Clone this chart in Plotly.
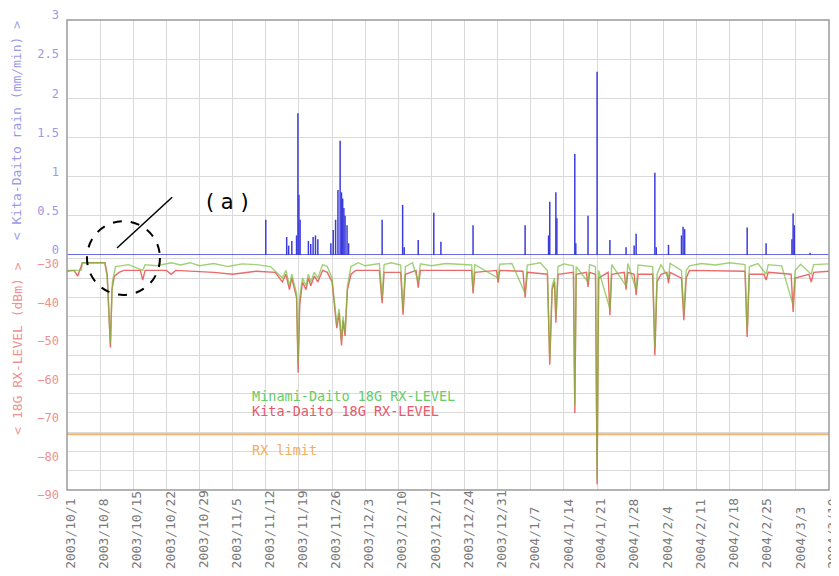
import plotly.graph_objects as go

# ---------------- data ----------------
tick_dates = ["2003-10-01", "2003-10-08", "2003-10-15", "2003-10-22", "2003-10-29",
              "2003-11-05", "2003-11-12", "2003-11-19", "2003-11-26", "2003-12-03",
              "2003-12-10", "2003-12-17", "2003-12-24", "2003-12-31", "2004-01-07",
              "2004-01-14", "2004-01-21", "2004-01-28", "2004-02-04", "2004-02-11",
              "2004-02-18", "2004-02-25", "2004-03-03", "2004-03-10"]
tick_labels = ["2003/10/1", "2003/10/8", "2003/10/15", "2003/10/22", "2003/10/29",
               "2003/11/5", "2003/11/12", "2003/11/19", "2003/11/26", "2003/12/3",
               "2003/12/10", "2003/12/17", "2003/12/24", "2003/12/31", "2004/1/7",
               "2004/1/14", "2004/1/21", "2004/1/28", "2004/2/4", "2004/2/11",
               "2004/2/18", "2004/2/25", "2004/3/3", "2004/3/10"]

rain_ticks = [0, 0.5, 1, 1.5, 2, 2.5, 3]
rain_tick_text = ["0", "0.5", "1", "1.5", "2", "2.5", "3"]
db_ticks = [-90, -80, -70, -60, -50, -40, -30]
db_minor = [-85, -75, -65, -55, -45, -35]

rain = [
    ("2003-11-12 00:00", 0.45), ("2003-11-16 10:00", 0.23), ("2003-11-16 20:00", 0.12),
    ("2003-11-17 12:00", 0.18), ("2003-11-18 12:00", 0.25), ("2003-11-18 19:00", 1.81),
    ("2003-11-19 00:00", 0.77), ("2003-11-19 06:00", 0.45), ("2003-11-21 00:00", 0.18),
    ("2003-11-21 12:00", 0.14), ("2003-11-22 00:00", 0.23), ("2003-11-22 12:00", 0.25),
    ("2003-11-23 00:00", 0.20), ("2003-11-25 18:00", 0.15), ("2003-11-26 06:00", 0.32),
    ("2003-11-26 18:00", 0.45), ("2003-11-27 06:00", 0.83), ("2003-11-27 17:00", 1.46),
    ("2003-11-28 00:00", 0.80), ("2003-11-28 06:00", 0.72), ("2003-11-28 12:00", 0.60),
    ("2003-11-28 18:00", 0.50), ("2003-11-29 04:00", 0.38), ("2003-11-29 12:00", 0.15),
    ("2003-12-06 14:00", 0.45), ("2003-12-10 22:00", 0.64), ("2003-12-11 06:00", 0.10),
    ("2003-12-14 05:00", 0.19), ("2003-12-17 12:00", 0.54), ("2003-12-19 00:00", 0.17),
    ("2003-12-25 19:00", 0.38), ("2004-01-05 19:00", 0.38), ("2004-01-10 18:00", 0.25),
    ("2004-01-11 00:00", 0.68), ("2004-01-12 07:00", 0.80), ("2004-01-12 12:00", 0.47),
    ("2004-01-16 07:00", 1.29), ("2004-01-16 12:00", 0.15), ("2004-01-19 02:00", 0.50),
    ("2004-01-21 00:00", 2.34), ("2004-01-23 17:00", 0.19), ("2004-01-27 03:00", 0.10),
    ("2004-01-28 20:00", 0.12), ("2004-01-29 06:00", 0.27), ("2004-02-02 05:00", 1.05),
    ("2004-02-02 12:00", 0.10), ("2004-02-05 02:00", 0.13), ("2004-02-07 20:00", 0.25),
    ("2004-02-08 04:00", 0.36), ("2004-02-08 12:00", 0.33), ("2004-02-21 17:00", 0.35),
    ("2004-02-25 17:00", 0.15), ("2004-03-02 04:00", 0.20), ("2004-03-02 10:00", 0.53),
    ("2004-03-02 16:00", 0.38), ("2004-03-06 00:00", 0.03),
]

kita = [
    ("2003-10-01 00:00", -33.2), ("2003-10-02 12:00", -33.0), ("2003-10-03 06:00", -34.5),
    ("2003-10-03 18:00", -33.0), ("2003-10-04 06:00", -31.0), ("2003-10-09 00:00", -31.0),
    ("2003-10-09 12:00", -34.0), ("2003-10-10 04:00", -53.0), ("2003-10-10 12:00", -38.0),
    ("2003-10-11 00:00", -34.5), ("2003-10-12 00:00", -33.5), ("2003-10-13 00:00", -33.0),
    ("2003-10-16 12:00", -33.0), ("2003-10-17 00:00", -35.5), ("2003-10-17 12:00", -33.0),
    ("2003-10-22 00:00", -33.0), ("2003-10-23 00:00", -34.0), ("2003-10-24 00:00", -33.0),
    ("2003-11-01 00:00", -33.5), ("2003-11-05 00:00", -34.0), ("2003-11-10 00:00", -33.2),
    ("2003-11-14 00:00", -33.5), ("2003-11-15 12:00", -36.0), ("2003-11-16 06:00", -34.0),
    ("2003-11-17 00:00", -38.0), ("2003-11-17 12:00", -35.0), ("2003-11-18 12:00", -40.0),
    ("2003-11-18 20:00", -59.5), ("2003-11-19 04:00", -42.0), ("2003-11-19 18:00", -36.0),
    ("2003-11-20 12:00", -38.0), ("2003-11-21 00:00", -35.0), ("2003-11-21 12:00", -37.0),
    ("2003-11-22 06:00", -34.5), ("2003-11-23 00:00", -36.0), ("2003-11-24 00:00", -33.0),
    ("2003-11-25 00:00", -33.5), ("2003-11-26 00:00", -36.0), ("2003-11-26 12:00", -42.0),
    ("2003-11-27 00:00", -48.0), ("2003-11-27 12:00", -44.0), ("2003-11-28 00:00", -52.5),
    ("2003-11-28 08:00", -46.0), ("2003-11-28 18:00", -50.0), ("2003-11-29 06:00", -38.0),
    ("2003-11-30 00:00", -34.0), ("2003-12-01 00:00", -33.0), ("2003-12-06 00:00", -33.0),
    ("2003-12-06 14:00", -41.5), ("2003-12-07 00:00", -33.5), ("2003-12-10 12:00", -33.5),
    ("2003-12-11 00:00", -44.5), ("2003-12-11 12:00", -34.0), ("2003-12-13 18:00", -33.0),
    ("2003-12-14 05:00", -37.5), ("2003-12-14 16:00", -33.0), ("2003-12-25 12:00", -33.0),
    ("2003-12-25 19:00", -39.0), ("2003-12-26 04:00", -33.5), ("2003-12-30 18:00", -33.0),
    ("2003-12-31 02:00", -36.2), ("2003-12-31 10:00", -33.0), ("2004-01-05 08:00", -33.2),
    ("2004-01-05 19:00", -40.0), ("2004-01-06 06:00", -33.5), ("2004-01-10 12:00", -34.0),
    ("2004-01-11 00:00", -57.5), ("2004-01-11 12:00", -38.0), ("2004-01-12 00:00", -36.0),
    ("2004-01-12 07:00", -46.6), ("2004-01-12 18:00", -34.0), ("2004-01-16 00:00", -33.5),
    ("2004-01-16 07:00", -70.0), ("2004-01-16 14:00", -34.0), ("2004-01-18 18:00", -33.5),
    ("2004-01-19 02:00", -37.3), ("2004-01-19 10:00", -33.5), ("2004-01-20 16:00", -34.0),
    ("2004-01-21 00:00", -88.5), ("2004-01-21 08:00", -35.0), ("2004-01-23 08:00", -33.5),
    ("2004-01-23 17:00", -44.6), ("2004-01-24 02:00", -34.0), ("2004-01-26 18:00", -33.5),
    ("2004-01-27 03:00", -38.0), ("2004-01-27 12:00", -33.5), ("2004-01-28 20:00", -34.0),
    ("2004-01-29 06:00", -39.4), ("2004-01-29 16:00", -34.0), ("2004-02-01 18:00", -34.0),
    ("2004-02-02 05:00", -55.0), ("2004-02-02 16:00", -36.0), ("2004-02-03 12:00", -34.0),
    ("2004-02-04 18:00", -33.5), ("2004-02-05 02:00", -36.3), ("2004-02-05 10:00", -33.5),
    ("2004-02-07 20:00", -35.0), ("2004-02-08 08:00", -45.9), ("2004-02-08 20:00", -35.0),
    ("2004-02-09 12:00", -33.0), ("2004-02-21 06:00", -33.2), ("2004-02-21 17:00", -50.3),
    ("2004-02-22 04:00", -34.0), ("2004-02-25 06:00", -34.0), ("2004-02-25 17:00", -35.5),
    ("2004-02-26 04:00", -33.5), ("2004-03-02 00:00", -34.0), ("2004-03-02 10:00", -43.8),
    ("2004-03-02 20:00", -35.0), ("2004-03-05 18:00", -34.0), ("2004-03-06 06:00", -36.0),
    ("2004-03-06 18:00", -33.5), ("2004-03-10 00:00", -33.2),
]

minami = [
    ("2003-10-01 00:00", -33.0), ("2003-10-04 00:00", -33.0), ("2003-10-04 06:00", -31.0),
    ("2003-10-09 00:00", -31.0), ("2003-10-09 12:00", -35.0), ("2003-10-10 04:00", -52.0),
    ("2003-10-10 14:00", -36.0), ("2003-10-11 06:00", -32.0), ("2003-10-14 00:00", -31.5),
    ("2003-10-17 00:00", -33.0), ("2003-10-17 12:00", -31.5), ("2003-10-20 00:00", -31.8),
    ("2003-10-23 00:00", -31.0), ("2003-10-25 00:00", -31.6), ("2003-10-27 00:00", -31.0),
    ("2003-10-29 00:00", -31.8), ("2003-11-01 00:00", -31.2), ("2003-11-04 00:00", -32.0),
    ("2003-11-07 00:00", -31.3), ("2003-11-10 00:00", -31.5), ("2003-11-13 00:00", -32.0),
    ("2003-11-15 12:00", -35.0), ("2003-11-16 06:00", -33.0), ("2003-11-17 00:00", -37.0),
    ("2003-11-17 12:00", -34.0), ("2003-11-18 12:00", -39.0), ("2003-11-18 20:00", -57.0),
    ("2003-11-19 04:00", -40.0), ("2003-11-19 18:00", -35.0), ("2003-11-20 12:00", -37.0),
    ("2003-11-21 00:00", -34.0), ("2003-11-21 12:00", -36.0), ("2003-11-22 06:00", -33.5),
    ("2003-11-23 00:00", -35.0), ("2003-11-24 00:00", -31.5), ("2003-11-25 00:00", -32.0),
    ("2003-11-26 00:00", -35.0), ("2003-11-26 12:00", -41.0), ("2003-11-27 00:00", -47.0),
    ("2003-11-27 12:00", -43.0), ("2003-11-28 00:00", -51.0), ("2003-11-28 08:00", -45.0),
    ("2003-11-28 18:00", -49.0), ("2003-11-29 06:00", -37.0), ("2003-11-30 00:00", -32.0),
    ("2003-12-01 12:00", -31.0), ("2003-12-03 00:00", -31.8), ("2003-12-06 00:00", -31.2),
    ("2003-12-06 14:00", -40.0), ("2003-12-07 00:00", -31.5), ("2003-12-08 12:00", -31.0),
    ("2003-12-10 12:00", -31.6), ("2003-12-11 00:00", -43.0), ("2003-12-11 12:00", -32.0),
    ("2003-12-13 00:00", -31.0), ("2003-12-14 05:00", -36.0), ("2003-12-14 16:00", -31.3),
    ("2003-12-17 00:00", -31.8), ("2003-12-20 00:00", -31.2), ("2003-12-25 12:00", -31.6),
    ("2003-12-25 19:00", -38.0), ("2003-12-26 04:00", -31.5), ("2003-12-31 02:00", -35.0),
    ("2003-12-31 10:00", -31.4), ("2004-01-03 00:00", -31.2), ("2004-01-05 19:00", -39.0),
    ("2004-01-06 06:00", -31.6), ("2004-01-09 00:00", -31.0), ("2004-01-10 12:00", -33.0),
    ("2004-01-11 00:00", -56.0), ("2004-01-11 12:00", -37.0), ("2004-01-12 00:00", -35.0),
    ("2004-01-12 07:00", -45.0), ("2004-01-12 18:00", -32.0), ("2004-01-14 00:00", -31.3),
    ("2004-01-16 00:00", -31.8), ("2004-01-16 07:00", -68.0), ("2004-01-16 14:00", -32.0),
    ("2004-01-19 02:00", -36.0), ("2004-01-19 10:00", -31.5), ("2004-01-20 16:00", -32.0),
    ("2004-01-21 00:00", -87.0), ("2004-01-21 08:00", -33.0), ("2004-01-23 17:00", -43.0),
    ("2004-01-24 02:00", -31.5), ("2004-01-27 03:00", -37.0), ("2004-01-27 12:00", -31.2),
    ("2004-01-29 06:00", -38.0), ("2004-01-29 16:00", -31.6), ("2004-02-01 18:00", -32.0),
    ("2004-02-02 05:00", -53.0), ("2004-02-02 16:00", -34.0), ("2004-02-03 12:00", -31.5),
    ("2004-02-05 02:00", -35.0), ("2004-02-05 10:00", -31.2), ("2004-02-07 20:00", -33.0),
    ("2004-02-08 08:00", -44.0), ("2004-02-08 20:00", -33.0), ("2004-02-09 12:00", -31.8),
    ("2004-02-12 00:00", -31.2), ("2004-02-15 00:00", -31.6), ("2004-02-18 00:00", -31.0),
    ("2004-02-21 06:00", -31.5), ("2004-02-21 17:00", -49.0), ("2004-02-22 04:00", -32.0),
    ("2004-02-24 00:00", -31.2), ("2004-02-25 17:00", -34.0), ("2004-02-26 04:00", -31.5),
    ("2004-02-29 00:00", -31.8), ("2004-03-02 10:00", -42.0), ("2004-03-02 20:00", -33.0),
    ("2004-03-04 00:00", -31.4), ("2004-03-06 06:00", -34.0), ("2004-03-06 18:00", -31.5),
    ("2004-03-10 00:00", -31.3),
]

rx_limit_dbm = -75.5
x_start, x_end = "2003-10-01", "2004-03-10"

# ---------------- figure ----------------
MONO = "DejaVu Sans Mono"
GRID = "#dadada"
rain_t = [t for t, _ in rain]
rain_v = [v for _, v in rain]

fig = go.Figure()

# rain baseline (zero rain) and rain spikes
fig.add_trace(go.Scatter(x=[x_start, x_end], y=[0, 0], mode="lines",
                         line=dict(color="#3a3ae0", width=1.5), yaxis="y",
                         hoverinfo="skip", showlegend=False))
fig.add_trace(go.Scatter(
    x=rain_t, y=[0] * len(rain_t), mode="markers",
    marker=dict(size=1, color="rgba(0,0,0,0)"),
    error_y=dict(type="data", symmetric=False, array=rain_v,
                 arrayminus=[0] * len(rain_v), width=0, thickness=1.5,
                 color="rgb(60,60,220)"),
    yaxis="y", showlegend=False, name="Kita-Daito rain"))

# RX limit
fig.add_trace(go.Scatter(x=[x_start, x_end], y=[rx_limit_dbm, rx_limit_dbm], mode="lines",
                         line=dict(color="#f4b26a", width=2), yaxis="y2",
                         showlegend=False, name="RX limit"))
# RX levels
fig.add_trace(go.Scatter(x=[t for t, _ in kita], y=[v for _, v in kita], mode="lines",
                         line=dict(color="rgba(230,80,80,0.85)", width=1.4), yaxis="y2",
                         showlegend=False, name="Kita-Daito 18G RX-LEVEL"))
fig.add_trace(go.Scatter(x=[t for t, _ in minami], y=[v for _, v in minami], mode="lines",
                         line=dict(color="rgba(120,190,60,0.7)", width=1.4), yaxis="y2",
                         showlegend=False, name="Minami-Daito 18G RX-LEVEL"))

annotations = []
for d, lab in zip(tick_dates, tick_labels):
    annotations.append(dict(x=d, xref="x", y=-0.172, yref="paper", text=lab,
                            showarrow=False, textangle=-90, xanchor="center",
                            yanchor="bottom", xshift=4,
                            font=dict(family=MONO, size=13, color="#7a7a7a")))

annotations += [
    dict(x=-0.066, y=0.765, xref="paper", yref="paper", text="&lt; Kita-Daito rain (mm/min) &gt;",
         textangle=-90, showarrow=False, xanchor="center", yanchor="middle",
         font=dict(family=MONO, size=13, color="#9a9ae6")),
    dict(x=-0.066, y=0.300, xref="paper", yref="paper", text="&lt; 18G RX-LEVEL (dBm) &gt;",
         textangle=-90, showarrow=False, xanchor="center", yanchor="middle",
         font=dict(family=MONO, size=13, color="#f09090")),
    dict(x=0.240, y=0.200, xref="paper", yref="paper", text="Minami-Daito 18G RX-LEVEL",
         xanchor="left", yanchor="middle", showarrow=False,
         font=dict(family=MONO, size=13.5, color="#66cc66")),
    dict(x=0.240, y=0.168, xref="paper", yref="paper", text="Kita-Daito 18G RX-LEVEL",
         xanchor="left", yanchor="middle", showarrow=False,
         font=dict(family=MONO, size=13.5, color="#e8586a")),
    dict(x=0.240, y=0.085, xref="paper", yref="paper", text="RX limit",
         xanchor="left", yanchor="middle", showarrow=False,
         font=dict(family=MONO, size=13.5, color="#f2b060")),
    dict(x=0.210, y=0.612, xref="paper", yref="paper", text="( a )",
         xanchor="center", yanchor="middle", showarrow=False,
         font=dict(family="DejaVu Sans", size=21, color="black")),
]

shapes = [
    dict(type="rect", xref="paper", yref="paper", x0=0, x1=1, y0=0, y1=1,
         line=dict(color="#9a9a9a", width=1.5), layer="above"),
    dict(type="line", xref="paper", yref="paper", x0=0.138, y0=0.623, x1=0.0656, y1=0.515,
         line=dict(color="black", width=1.5), layer="above"),
    dict(type="circle", xref="paper", yref="paper", x0=0.0262, x1=0.122, y0=0.415, y1=0.572,
         line=dict(color="black", width=2, dash="dash"), layer="above"),
]

# the page body adds an 8px offset, so the figure is 8px smaller and margins adjusted
fig.update_layout(
    width=831, height=568,
    margin=dict(l=59, r=10, t=12, b=86, autoexpand=False),
    paper_bgcolor="white", plot_bgcolor="white",
    showlegend=False,
    xaxis=dict(type="date", range=[x_start, x_end], tickvals=tick_dates,
               showticklabels=False, showgrid=True, gridcolor=GRID, gridwidth=1,
               zeroline=False, showline=False, ticks=""),
    yaxis=dict(domain=[0.5, 1], range=[0, 3], tickvals=rain_ticks, ticktext=rain_tick_text,
               showgrid=True, gridcolor=GRID, zeroline=False, showline=False, ticks="",
               ticklabelstandoff=7, ticklabelshift=-5, automargin=False,
               tickfont=dict(family=MONO, size=12, color="#9a9ae6"), anchor="x"),
    yaxis2=dict(domain=[0, 0.5], range=[-90, -29], tickvals=db_ticks,
                showgrid=True, gridcolor=GRID, zeroline=False, showline=False, ticks="",
                ticklabelstandoff=7, ticklabelshift=5, automargin=False,
                minor=dict(tickvals=db_minor, showgrid=True, gridcolor=GRID),
                tickfont=dict(family=MONO, size=12, color="#f09090"), anchor="x"),
    annotations=annotations,
    shapes=shapes,
)

fig.write_html("out.html")
